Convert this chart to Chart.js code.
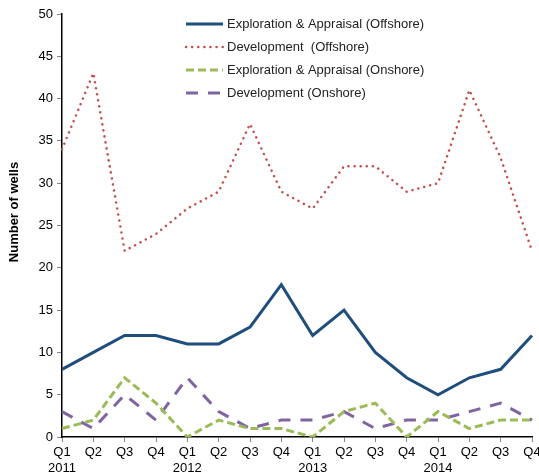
<!DOCTYPE html>
<html>
<head>
<meta charset="utf-8">
<script src="https://cdn.jsdelivr.net/npm/chart.js@4"></script>
<style>
  html, body { margin: 0; padding: 0; background: #fff; }
  #wrap { width: 539px; height: 476px; }
</style>
</head>
<body>
<div id="wrap"><canvas id="myChart"></canvas></div>
<script>
// quarters, with the year under each Q1
var quarters = [
  ['Q1', '2011'], 'Q2', 'Q3', 'Q4',
  ['Q1', '2012'], 'Q2', 'Q3', 'Q4',
  ['Q1', '2013'], 'Q2', 'Q3', 'Q4',
  ['Q1', '2014'], 'Q2', 'Q3', 'Q4'
];

var exploreOffshore = [8, 10, 12, 12, 11, 11, 13, 18, 12, 15, 10, 7, 5, 7, 8, 12];
var developOffshore = [34, 43, 22, 24, 27, 29, 37, 29, 27, 32, 32, 29, 30, 41, 33, 22];
var exploreOnshore  = [1, 2, 7, 4, 0, 2, 1, 1, 0, 3, 4, 0, 3, 1, 2, 2];
var developOnshore  = [3, 1, 5, 2, 7, 3, 1, 2, 2, 3, 1, 2, 2, 3, 4, 2];

var seriesNames = [
  'Exploration & Appraisal (Offshore)',
  'Development  (Offshore)',
  'Exploration & Appraisal (Onshore)',
  'Development (Onshore)'
];

var FONT = '"Liberation Sans", Arial, sans-serif';

// legend sits inside the plot, drawn by hand
var legendPlugin = {
  id: 'insideLegend',
  afterDraw: function(chart) {
    var ctx = chart.ctx;
    ctx.save();
    chart.data.datasets.forEach(function(ds, i) {
      var y = 24 + i * 23;
      ctx.beginPath();
      ctx.strokeStyle = ds.borderColor;
      ctx.lineWidth = ds.borderWidth;
      ctx.lineCap = ds.borderCapStyle || 'butt';
      ctx.setLineDash(ds.borderDash || []);
      ctx.moveTo(186, y);
      ctx.lineTo(223, y);
      ctx.stroke();
      ctx.setLineDash([]);
      ctx.fillStyle = '#222';
      ctx.font = '13px ' + FONT;
      ctx.textBaseline = 'middle';
      ctx.textAlign = 'left';
      ctx.fillText(ds.label, 227, y);
    });
    // y axis title
    ctx.translate(14, 212);
    ctx.rotate(-Math.PI / 2);
    ctx.font = 'bold 13px ' + FONT;
    ctx.fillStyle = '#000';
    ctx.textAlign = 'center';
    ctx.textBaseline = 'middle';
    ctx.fillText('Number of wells', 0, 0);
    ctx.restore();
  }
};

var ctx = document.getElementById('myChart').getContext('2d');
var chart = new Chart(ctx, {
  type: 'line',
  data: {
    labels: quarters,
    datasets: [{
      label: seriesNames[0],
      data: exploreOffshore,
      borderColor: '#1F4E7D',
      borderWidth: 3,
      borderJoinStyle: 'miter'
    }, {
      label: seriesNames[1],
      data: developOffshore,
      borderColor: '#C0504D',
      borderWidth: 2.5,
      borderDash: [0.1, 6],
      borderCapStyle: 'round'
    }, {
      label: seriesNames[2],
      data: exploreOnshore,
      borderColor: '#9BBB59',
      borderWidth: 3,
      borderDash: [8, 4]
    }, {
      label: seriesNames[3],
      data: developOnshore,
      borderColor: '#8064A2',
      borderWidth: 3,
      borderDash: [12, 10]
    }]
  },
  options: {
    responsive: true,
    maintainAspectRatio: false,
    animation: false,
    elements: { point: { radius: 0 }, line: { tension: 0, fill: false } },
    layout: { padding: { top: 14, right: 7, left: 0, bottom: 0 } },
    plugins: { legend: { display: false }, tooltip: { enabled: false } },
    scales: {
      x: {
        offset: false,
        border: { color: '#000', width: 1.5 },
        grid: { drawOnChartArea: false, tickLength: 5, color: '#888' },
        ticks: { color: '#000', font: { family: FONT, size: 13 }, padding: 3, maxRotation: 0, autoSkip: false },
        afterFit: function(s) { s.height = 39; s.paddingLeft = 0; s.paddingRight = 0; }
      },
      y: {
        min: 0, max: 50,
        border: { color: '#000', width: 1.5 },
        grid: { drawOnChartArea: false, tickLength: 5, color: '#888' },
        ticks: { stepSize: 5, color: '#000', font: { family: FONT, size: 13 }, padding: 4 },
        afterFit: function(s) { s.width = 62; }
      }
    }
  },
  plugins: [legendPlugin]
});
</script>
</body>
</html>
